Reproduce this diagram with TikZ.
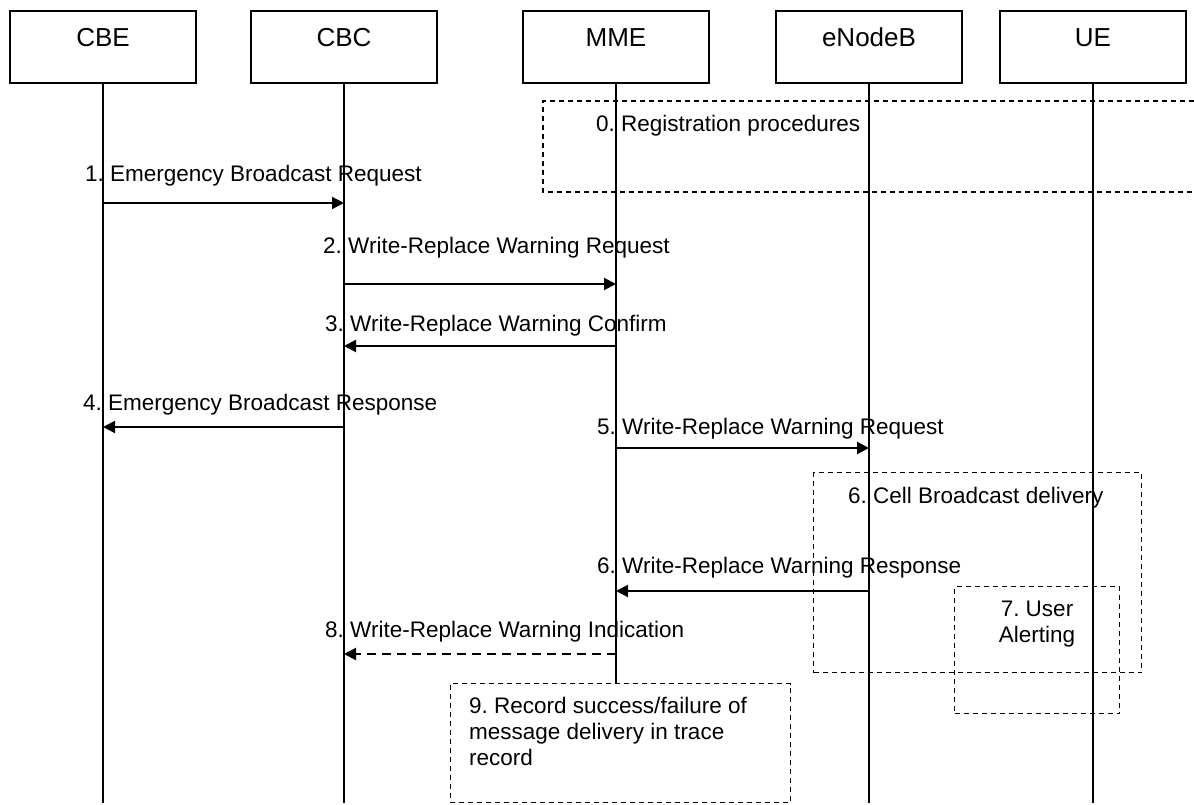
\documentclass[tikz,border=0pt]{standalone}
\usepackage{fontspec}
\setmainfont{Liberation Sans}
\frenchspacing
\usetikzlibrary{arrows.meta}

\begin{document}
\begin{tikzpicture}[x=1pt, y=-1pt,
    actor/.style = {draw, line width=1.2pt, minimum width=186, minimum height=72,
        font=\fontsize{26}{30}\selectfont, text height=19pt, text depth=19pt},
    lifeline/.style = {line width=1.3pt},
    msg/.style = {line width=2pt, -{Triangle[length=12pt, width=12pt]}},
    reply/.style = {msg, dash pattern=on 9pt off 6pt},
    phase/.style = {draw, line width=1.3pt, dash pattern=on 5pt off 4pt, inner sep=0pt},
    lbl/.style = {font=\fontsize{22.5}{26}\selectfont, inner sep=0pt, anchor=base west}]
    \useasboundingbox (0,0) rectangle (1194,805);

    % participants
    \node (CBE) [actor] at (103,47) {CBE};
    \node (CBC) [actor] at (344,47) {CBC};
    \node (MME) [actor] at (616,47) {MME};
    \node (eNB) [actor] at (869,47) {eNodeB};
    \node (UE) [actor] at (1093,47) {UE};

    \path [lifeline]
        (CBE.south) edge (CBE |- 0,803)
        (CBC.south) edge (CBC |- 0,803)
        (MME.south) edge (MME |- 0,803)
        (eNB.south) edge (eNB |- 0,803)
        (UE.south) edge (UE |- 0,803);

    % phases
    \draw [phase] (1194,101) -| (543,192) -- (1194,192);
    \node (P6) [phase, minimum width=328, minimum height=200, anchor=north west] at (813,472) {};
    \node (P7) [phase, minimum width=165, minimum height=127, anchor=north west] at (954,586) {};

    \path [msg]
        (CBE |- 0,203) edge (CBC |- 0,203)
        (CBC |- 0,284) edge (MME |- 0,284)
        (MME |- 0,346) edge (CBC |- 0,346)
        (CBC |- 0,427) edge (CBE |- 0,427)
        (MME |- 0,448) edge (eNB |- 0,448)
        (eNB |- 0,591) edge (MME |- 0,591);
    \path [reply] (MME |- 0,654) edge (CBC |- 0,654);

    \node (T0) [lbl] at (596,132) {0. Registration procedures};
    \node (T1) [lbl] at (85,181.5) {1. Emergency Broadcast Request};
    \node (T2) [lbl] at (323,253) {2. Write-Replace Warning Request};
    \node (T3) [lbl] at (325,331) {3. Write-Replace Warning Confirm};
    \node (T4) [lbl] at (83,410) {4. Emergency Broadcast Response};
    \node (T5) [lbl] at (597,434) {5. Write-Replace Warning Request};
    \node (T6) [lbl] at (848,503) {6. Cell Broadcast delivery};
    \node (T6r) [lbl] at (597,573) {6. Write-Replace Warning Response};
    \node (T7) [lbl, align=center, anchor=north] at (1037,600.5) {7. User\\Alerting};
    \node (T8) [lbl] at (325,637) {8. Write-Replace Warning Indication};

    \node (P9) [phase, fill=white, minimum width=340.5, minimum height=119, anchor=north west] at (449.5,683) {};
    \node (T9) [lbl, align=left, anchor=north west] at (469,696.5)
        {9. Record success/failure of\\message delivery in trace\\record};
\end{tikzpicture}
\end{document}
